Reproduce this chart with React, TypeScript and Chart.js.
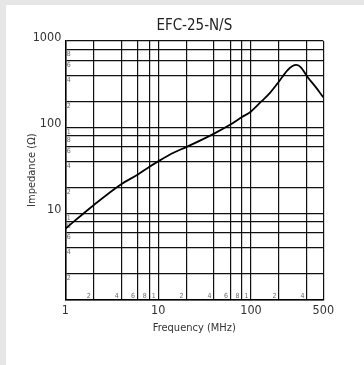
import { useEffect, useRef } from "react";
import { Chart, registerables } from "chart.js";

Chart.register(...registerables);

const chartTitle = "EFC-25-N/S";
const xAxisTitle = "Frequency (MHz)";
const yAxisTitle = "Impedance (Ω)";

// Curve (MHz, Ω)
const frequencies = [1, 2, 4, 6, 8, 10, 15, 20, 40, 60, 80, 100, 130, 160, 200, 245, 277, 308, 346, 400, 500, 600];
const impedance = [6.6, 12.3, 21.7, 28, 34.5, 40, 51, 58.5, 84, 107, 131, 152, 200, 250, 339, 454, 509, 528, 492, 390, 289, 222];

// Grid lines
const xGridValues = [1, 2, 4, 6, 8, 10, 20, 40, 60, 80, 100, 200, 400, 600];
const xMajorValues = [1, 10, 100, 600];
const xMajorLabels = ["1", "10", "100", "500"];
const yGridValues = [1, 2, 4, 6, 8, 10, 20, 40, 60, 80, 100, 200, 400, 600, 800, 1000];
const yMajorValues = [10, 100, 1000];
const yMajorLabels = ["10", "100", "1000"];

// Small in-plot labels
const xMinorValues = [2, 4, 6, 8, 10, 20, 40, 60, 80, 100, 200, 400];
const xMinorLabels = ["2", "4", "6", "8", "1", "2", "4", "6", "8", "1", "2", "4"];
const yMinorValues = [2, 4, 6, 8, 10, 20, 40, 60, 80, 100, 200, 400, 600, 800];
const yMinorLabels = ["2", "4", "6", "8", "1", "2", "4", "6", "8", "1", "2", "4", "6", "8"];

const FONT = "'Liberation Sans Narrow', 'DejaVu Sans Condensed', 'Liberation Sans', sans-serif";

const minorLabelPlugin = {
  id: "minorLabels",
  beforeDatasetsDraw(chart: any) {
    const { ctx, chartArea } = chart;
    const xs = chart.scales.x;
    const ys = chart.scales.y;
    ctx.save();
    ctx.font = `7px ${FONT}`;
    ctx.fillStyle = "#6a6a6a";
    ctx.textAlign = "right";
    ctx.textBaseline = "alphabetic";
    xMinorValues.forEach((v, i) => {
      const px = xs.getPixelForValue(v);
      ctx.fillText(xMinorLabels[i], px - 2.5, chartArea.bottom - 1.5);
    });
    ctx.textAlign = "left";
    ctx.textBaseline = "top";
    yMinorValues.forEach((v, i) => {
      const py = ys.getPixelForValue(v);
      ctx.fillText(yMinorLabels[i], chartArea.left + 1.5, py + 1.5);
    });
    ctx.restore();
  },
};

export default function App() {
  const ref = useRef<HTMLCanvasElement | null>(null);

  useEffect(() => {
    if (!ref.current) return;
    const chart = new Chart(ref.current, {
      type: "line",
      data: {
        datasets: [
          {
            data: frequencies.map((f, i) => ({ x: f, y: impedance[i] })),
            borderColor: "#000",
            borderWidth: 1.8,
            pointRadius: 0,
            fill: false,
            cubicInterpolationMode: "monotone",
          },
        ],
      },
      options: {
        responsive: false,
        animation: false,
        layout: { padding: { left: 0, right: 40.7, top: 0, bottom: 25.7 } },
        plugins: {
          legend: { display: false },
          tooltip: { enabled: false },
          title: {
            display: true,
            fullSize: false,
            text: chartTitle,
            color: "#222",
            font: { family: FONT, size: 15, weight: "normal" },
            padding: { top: 12, bottom: 6 },
          },
        },
        scales: {
          x: {
            type: "logarithmic",
            min: 1,
            max: 600,
            afterBuildTicks: (scale: any) => {
              scale.ticks = xGridValues.map((v) => ({ value: v }));
            },
            afterFit: (scale: any) => {
              scale.height = 40;
            },
            ticks: {
              autoSkip: false,
              maxRotation: 0,
              padding: 4,
              color: "#333",
              font: { family: FONT, size: 12.5 },
              callback: (value: any) => {
                const idx = xMajorValues.indexOf(Number(value));
                return idx >= 0 ? xMajorLabels[idx] : "";
              },
            },
            grid: { color: "#111", lineWidth: 1.2, drawTicks: false },
            border: { display: true, color: "#000", width: 1.5 },
            title: {
              display: true,
              text: xAxisTitle,
              color: "#333",
              font: { family: FONT, size: 11 },
              padding: { top: 0, bottom: 5 },
            },
          },
          y: {
            type: "logarithmic",
            min: 1,
            max: 1000,
            afterBuildTicks: (scale: any) => {
              scale.ticks = yGridValues.map((v) => ({ value: v }));
            },
            afterFit: (scale: any) => {
              scale.width = 59.3;
            },
            ticks: {
              autoSkip: false,
              padding: 4,
              labelOffset: -3,
              color: "#333",
              font: { family: FONT, size: 12.5 },
              callback: (value: any) => {
                const idx = yMajorValues.indexOf(Number(value));
                return idx >= 0 ? yMajorLabels[idx] : "";
              },
            },
            grid: { color: "#111", lineWidth: 1.2, drawTicks: false },
            border: { display: true, color: "#000", width: 1.5 },
            title: {
              display: true,
              text: yAxisTitle,
              color: "#333",
              font: { family: FONT, size: 11 },
              padding: { top: 20, bottom: 0 },
            },
          },
        },
      },
      plugins: [minorLabelPlugin],
    } as any);
    return () => chart.destroy();
  }, []);

  return (
    <div style={{ position: "fixed", left: 0, top: 0, width: 364, height: 365, background: "#e6e6e6", overflow: "hidden" }}>
      <div style={{ position: "absolute", left: 6, top: 5, width: 358, height: 360, background: "#fff" }}>
        <canvas ref={ref} width={358} height={360} style={{ display: "block", width: 358, height: 360 }} />
      </div>
    </div>
  );
}
